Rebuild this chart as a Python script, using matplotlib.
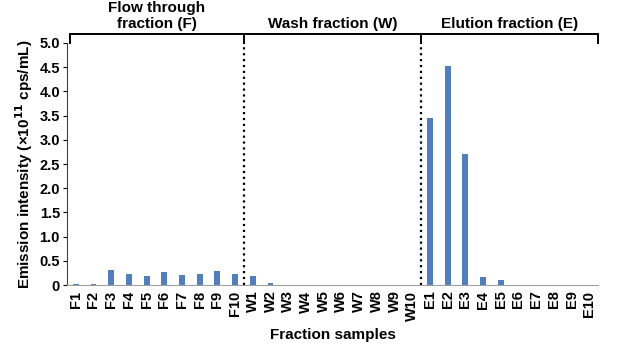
import matplotlib.pyplot as plt

plt.rcParams['font.family'] = ['Liberation Sans', 'DejaVu Sans']

# data (x10^11 cps/mL)
flow_labels = ['F%d' % i for i in range(1, 11)]
wash_labels = ['W%d' % i for i in range(1, 11)]
elution_labels = ['E%d' % i for i in range(1, 11)]
flow_values = [0.02, 0.02, 0.31, 0.22, 0.19, 0.26, 0.21, 0.23, 0.30, 0.22]
wash_values = [0.19, 0.05, 0, 0, 0, 0, 0, 0, 0, 0]
elution_values = [3.44, 4.53, 2.71, 0.17, 0.11, 0, 0, 0, 0, 0]
group_titles = ['Flow through\nfraction (F)', 'Wash fraction (W)', 'Elution fraction (E)']
yticks = [0, 0.5, 1.0, 1.5, 2.0, 2.5, 3.0, 3.5, 4.0, 4.5, 5.0]
ytick_labels = ['0', '0.5', '1.0', '1.5', '2.0', '2.5', '3.0', '3.5', '4.0', '4.5', '5.0']

labels = flow_labels + wash_labels + elution_labels
values = flow_values + wash_values + elution_values
x = list(range(len(labels)))

fig = plt.figure(figsize=(6.31, 3.55), dpi=100)
ax = fig.add_axes([0.106, 0.197, 0.842, 0.682])

ax.bar(x, values, width=0.33, color='#4f7fc0', zorder=2)

ax.set_xlim(-0.5, len(labels) - 0.5)
ax.set_ylim(0, 5.0)
ax.set_yticks(yticks)
ax.set_yticklabels(ytick_labels, fontsize=10.5, fontweight='bold')
ax.set_xticks(x)
ax.set_xticklabels(labels, rotation=90, fontsize=10.5, fontweight='bold')
ax.tick_params(axis='x', length=0, pad=4)
ax.tick_params(axis='y', length=3, width=0.8, direction='out', pad=2)

for side in ['top', 'right']:
    ax.spines[side].set_visible(False)
ax.spines['bottom'].set_color('#a0a0a0')
ax.spines['left'].set_color('#404040')

ax.set_xlabel('Fraction samples', fontsize=11, fontweight='bold', labelpad=5)
ax.set_ylabel(r'Emission intensity (×10$^{\mathbf{11}}$ cps/mL)', fontsize=11,
              fontweight='bold', labelpad=3)

# group dividers
n = len(flow_labels)
dividers = [n - 0.5, 2 * n - 0.5]
for d in dividers:
    ax.plot([d, d], [0, 5.0], color='black', linestyle=':', linewidth=1.6,
            zorder=3, clip_on=False)

# bracket across the top
top = 5.19
left_end, right_end = -0.32, len(labels) - 0.5
ax.plot([left_end, right_end], [top, top], color='black', linewidth=1.4, clip_on=False)
for xe in [left_end, right_end] + dividers:
    ax.plot([xe, xe], [top, 5.0], color='black', linewidth=1.4, clip_on=False)

edges = [left_end] + dividers + [right_end]
title_y = [5.55, 5.4, 5.4]
for i, t in enumerate(group_titles):
    cx = (edges[i] + edges[i + 1]) / 2
    ax.text(cx, title_y[i], t, ha='center', va='center', fontsize=11,
            fontweight='bold', linespacing=1.15, clip_on=False)

fig.savefig('out.png', dpi=100)
